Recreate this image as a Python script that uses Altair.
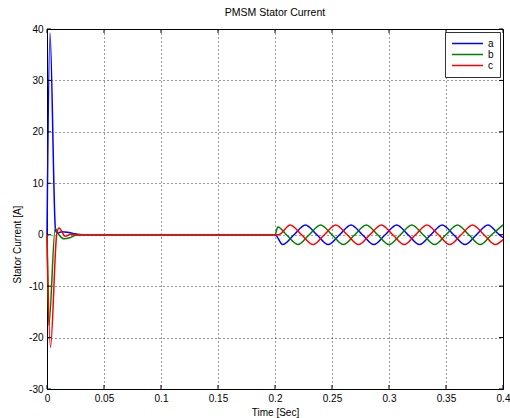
import altair as alt
import pandas as pd

# Phase currents read as (time [s], current [A]) breakpoints.
# Start-up transient, settled interval, then loaded steady state from 0.2 s.
t_a = [0.0, 0.0026, 0.0075, 0.009, 0.013, 0.018, 0.024, 0.032, 0.06, 0.1, 0.15, 0.2,
       0.2067, 0.2167, 0.2267, 0.2367, 0.2467, 0.2567, 0.2667, 0.2767, 0.2867, 0.2967,
       0.3067, 0.3167, 0.3267, 0.3367, 0.3467, 0.3567, 0.3667, 0.3767, 0.3867, 0.3967, 0.4]
i_a = [0.0, 39.2, 0.8, 0.3, 0.6, 0.5, 0.2, 0.0, 0.0, 0.0, 0.0, 0.0,
       -1.9, 0.0, 1.9, 0.0, -1.9, 0.0, 1.9, 0.0, -1.9, 0.0,
       1.9, 0.0, -1.9, 0.0, 1.9, 0.0, -1.9, 0.0, 1.9, 0.0, -0.55]

t_b = [0.0, 0.0016, 0.0072, 0.0105, 0.015, 0.02, 0.025, 0.032, 0.06, 0.1, 0.15, 0.2,
       0.2025, 0.21, 0.22, 0.23, 0.24, 0.25, 0.26, 0.27, 0.28, 0.29,
       0.30, 0.31, 0.32, 0.33, 0.34, 0.35, 0.36, 0.37, 0.38, 0.39, 0.40]
i_b = [0.0, -17.6, 1.2, 0.0, -0.8, -0.6, -0.1, 0.0, 0.0, 0.0, 0.0, 0.0,
       1.5, 0.0, -1.9, 0.0, 1.9, 0.0, -1.9, 0.0, 1.9, 0.0,
       -1.9, 0.0, 1.9, 0.0, -1.9, 0.0, 1.9, 0.0, -1.9, 0.0, 1.9]

t_c = [0.0, 0.003, 0.0085, 0.0105, 0.016, 0.021, 0.028, 0.06, 0.1, 0.15, 0.2,
       0.2033, 0.2133, 0.2233, 0.2333, 0.2433, 0.2533, 0.2633, 0.2733, 0.2833, 0.2933,
       0.3033, 0.3133, 0.3233, 0.3333, 0.3433, 0.3533, 0.3633, 0.3733, 0.3833, 0.3933, 0.4]
i_c = [0.0, -21.9, 0.0, 1.3, -0.3, 0.1, 0.0, 0.0, 0.0, 0.0, 0.0,
       0.0, 1.9, 0.0, -1.9, 0.0, 1.9, 0.0, -1.9, 0.0, 1.9,
       0.0, -1.9, 0.0, 1.9, 0.0, -1.9, 0.0, 1.9, 0.0, -1.9, -0.95]

phases = ["a", "b", "c"]
colors = ["#0000ff", "#008000", "#ff0000"]

x_ticks = [0, 0.05, 0.1, 0.15, 0.2, 0.25, 0.3, 0.35, 0.4]
y_ticks = [-30, -20, -10, 0, 10, 20, 30, 40]

rows = []
for name, ts, vs in zip(phases, (t_a, t_b, t_c), (i_a, i_b, i_c)):
    for t, v in zip(ts, vs):
        rows.append({"t": t, "i": v, "phase": name})
df = pd.DataFrame(rows)

FONT = "Liberation Sans"
W, H = 456, 360
TICK = 4

x_scale = alt.Scale(domain=[0, 0.4], nice=False, zero=False)
y_scale = alt.Scale(domain=[-30, 40], nice=False)

lines = (
    alt.Chart(df)
    .mark_line(strokeWidth=1.5, interpolate="monotone")
    .encode(
        x=alt.X(
            "t:Q",
            scale=x_scale,
            axis=alt.Axis(
                values=x_ticks,
                labelExpr="'' + datum.value",
                title="Time [Sec]",
                titleY=23,
                titleBaseline="middle",
                labelPadding=4,
            ),
        ),
        y=alt.Y(
            "i:Q",
            scale=y_scale,
            axis=alt.Axis(
                values=y_ticks,
                labelExpr="'' + datum.value",
                title="Stator Current [A]",
                titleX=-30,
                titleY=215,
                titleBaseline="middle",
                labelPadding=4,
            ),
        ),
        color=alt.Color(
            "phase:N",
            scale=alt.Scale(domain=phases, range=colors),
            legend=alt.Legend(
                title=None,
                orient="top-right",
                offset=3,
                padding=6,
                strokeColor="#333333",
                fillColor="white",
                symbolType="stroke",
                symbolSize=961,
                symbolStrokeWidth=1.5,
                clipHeight=11,
                rowPadding=0,
                labelFont=FONT,
                labelFontSize=10,
                labelOffset=4,
            ),
        ),
    )
)

# MATLAB-style inward tick marks on all four sides of the box
xt = pd.DataFrame({"v": x_ticks})
yt = pd.DataFrame({"v": y_ticks})
tick_style = dict(color="#000000", strokeWidth=1)
ticks_bottom = alt.Chart(xt).mark_rule(**tick_style).encode(
    x=alt.X("v:Q", scale=x_scale), y=alt.value(H), y2=alt.value(H - TICK))
ticks_top = alt.Chart(xt).mark_rule(**tick_style).encode(
    x=alt.X("v:Q", scale=x_scale), y=alt.value(0), y2=alt.value(TICK))
ticks_left = alt.Chart(yt).mark_rule(**tick_style).encode(
    y=alt.Y("v:Q", scale=y_scale), x=alt.value(0), x2=alt.value(TICK))
ticks_right = alt.Chart(yt).mark_rule(**tick_style).encode(
    y=alt.Y("v:Q", scale=y_scale), x=alt.value(W), x2=alt.value(W - TICK))

chart = (
    alt.layer(lines, ticks_bottom, ticks_top, ticks_left, ticks_right)
    .properties(
        width=W,
        height=H,
        autosize=alt.AutoSizeParams(type="none"),
        padding={"left": 47, "top": 29, "right": 7, "bottom": 29},
        background="white",
        title=alt.TitleParams(
            "PMSM Stator Current",
            font=FONT,
            fontSize=10.5,
            fontWeight="normal",
            anchor="middle",
            offset=6,
            color="#000000",
        ),
    )
    .configure_axis(
        labelFont=FONT,
        labelFontSize=10,
        labelColor="#000000",
        titleFont=FONT,
        titleFontSize=10,
        titleFontWeight="normal",
        titleColor="#000000",
        domainColor="#000000",
        ticks=False,
        tickSize=0,
        grid=True,
        gridColor="#000000",
        gridDash=[1, 3],
        gridOpacity=0.8,
        labelOverlap=False,
        labelFlush=False,
    )
    .configure_view(stroke="#000000", strokeWidth=1)
)

chart.save("out.html", embed_options={"renderer": "svg", "actions": False})
